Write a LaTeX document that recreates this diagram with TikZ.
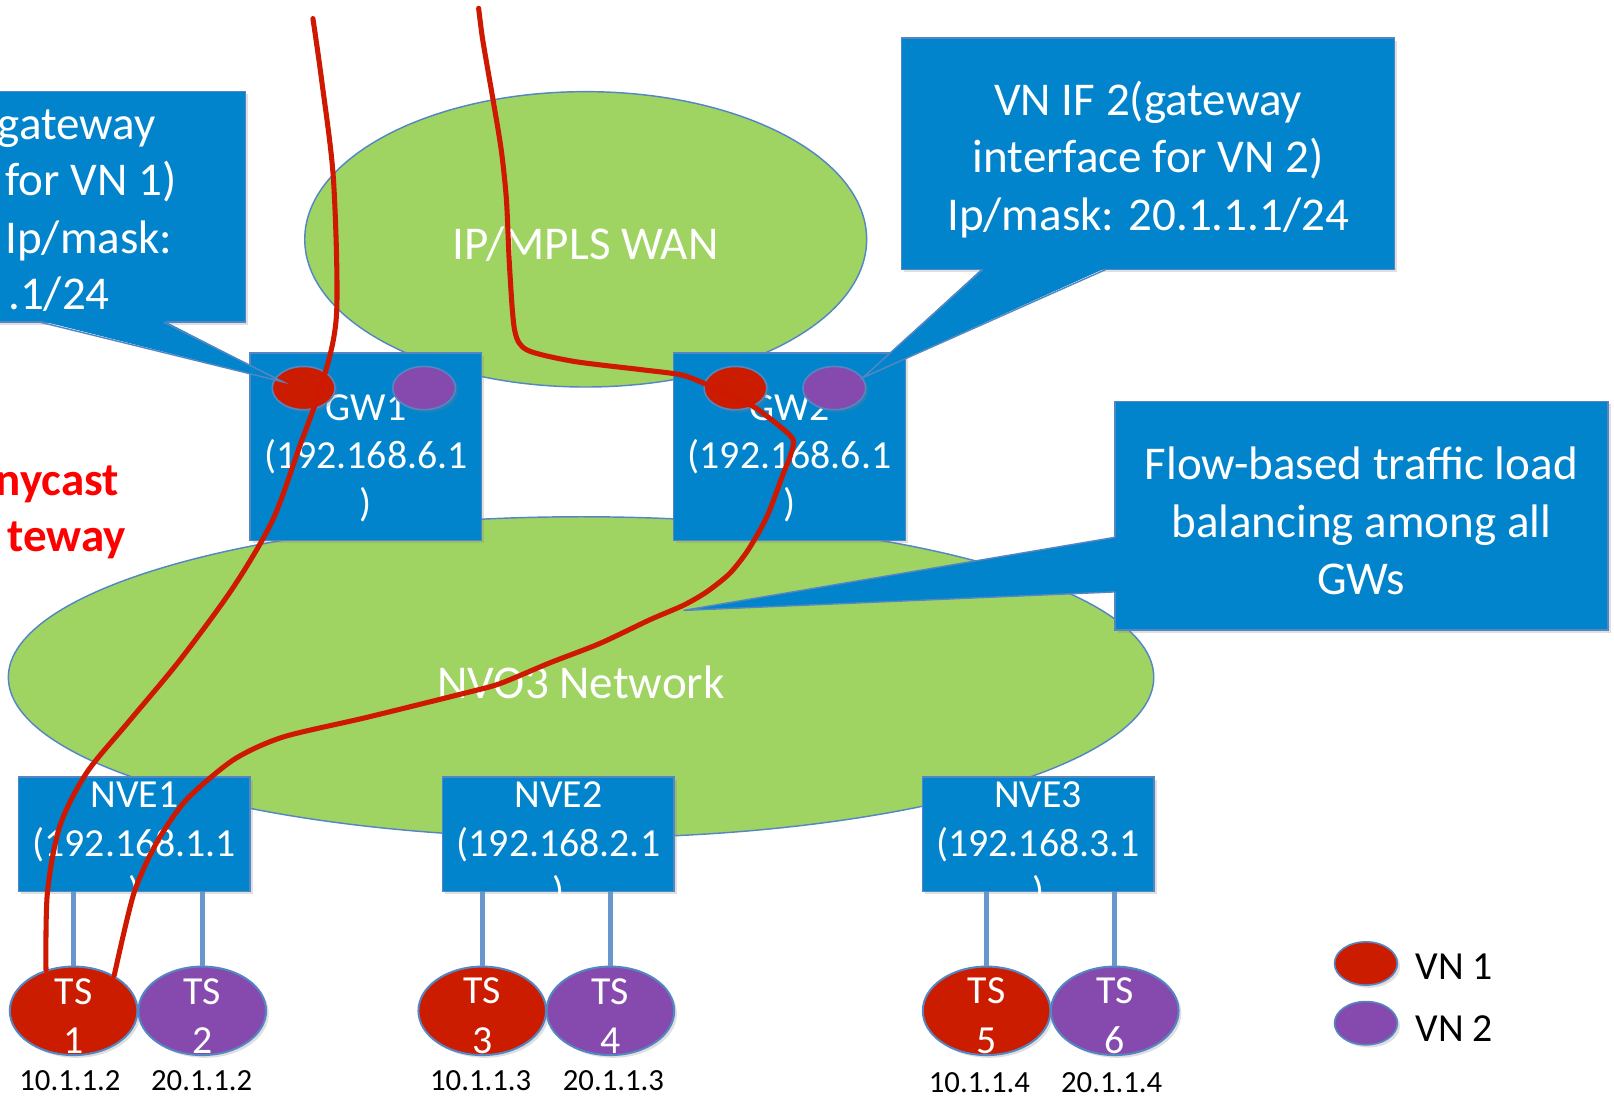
\documentclass[tikz,border=0pt]{standalone}
\usepackage{fontspec}
\setmainfont{Carlito}
\usetikzlibrary{shapes.geometric,shadows}
\definecolor{boxBlue}{RGB}{1,132,204}
\definecolor{edgeBlue}{RGB}{84,134,196}
\definecolor{netGreen}{RGB}{160,212,98}
\definecolor{vnRed}{RGB}{204,28,0}
\definecolor{vnPurple}{RGB}{134,74,175}
\definecolor{linkBlue}{RGB}{104,150,205}
\definecolor{flowRed}{RGB}{206,24,0}
\tikzstyle{shd}=[drop shadow={opacity=0.25,shadow xshift=1.5pt,shadow yshift=-1.5pt}]
\tikzstyle{net}=[ellipse,draw=edgeBlue,line width=0.8pt,fill=netGreen,inner sep=0pt]
\tikzstyle{netL}=[text=white,inner sep=0pt,yshift=-2.8pt,font=\fontsize{26}{32}\selectfont]
\tikzstyle{gwS}=[rectangle,draw=edgeBlue,line width=0.8pt,fill=boxBlue,inner sep=0pt,minimum width=4.5cm,minimum height=3.64cm,shd]
\tikzstyle{nveS}=[gwS,minimum height=2.22cm]
\tikzstyle{boxL}=[text=white,align=center,inner sep=0pt,yshift=-6.5pt,font=\fontsize{22}{26.7}\selectfont]
\tikzstyle{callS}=[rectangle,draw=edgeBlue,line width=0.8pt,fill=boxBlue,inner sep=0pt,minimum width=9.58cm,minimum height=4.5cm,shd]
\tikzstyle{callL}=[text=white,align=center,inner sep=0pt,yshift=-3pt,font=\fontsize{26}{31.9}\selectfont]
\tikzstyle{callT}=[text=white,inner sep=0pt,anchor=base east,font=\fontsize{26}{31.9}\selectfont]
\tikzstyle{tailS}=[fill=boxBlue]
\tikzstyle{tailE}=[draw=edgeBlue,line width=0.8pt]
\tikzstyle{ifS}=[ellipse,draw=edgeBlue,line width=0.9pt,minimum width=1.22cm,minimum height=0.84cm,inner sep=0pt,shd]
\tikzstyle{tsS}=[ellipse,draw=edgeBlue,line width=1.1pt,minimum width=2.48cm,minimum height=1.72cm,inner sep=0pt,shd]
\tikzstyle{tsT}=[text=white,align=center,inner sep=0pt,yshift=-2.8pt,font=\fontsize{22}{27.3}\selectfont]
\tikzstyle{ipS}=[inner sep=0pt,font=\fontsize{17}{20}\selectfont]
\tikzstyle{legS}=[inner sep=0pt,anchor=west,font=\fontsize{22}{26}\selectfont]
\tikzstyle{anyS}=[text=red,inner sep=0pt,anchor=base east,font=\bfseries\fontsize{26}{32}\selectfont]
\tikzstyle{link}=[draw=linkBlue,line width=2.6pt]
\tikzstyle{flow}=[draw=flowRed,line width=2.8pt,line cap=round,line join=round]

\begin{document}
\begin{tikzpicture}[x=0.02cm,y=-0.02cm]
\useasboundingbox (0,0) rectangle (1568,1066);
% networks
\draw (564.5,658) node[net,minimum width=22.26cm,minimum height=6.24cm,label={[netL]center:NVO3 Network}] (nvo) {};
\draw (569,232.5) node[net,minimum width=10.92cm,minimum height=5.74cm,label={[netL]center:IP/MPLS WAN}] (wan) {};
% gateways
\draw (355.5,434) node[gwS,label={[boxL]center:{GW1\\(192.168.6.1\\)}}] (gw1) {};
\draw (767,434) node[gwS,label={[boxL]center:{GW2\\(192.168.6.1\\)}}] (gw2) {};
% callouts
\draw (-3,201) node[callS,minimum width=9.66cm,minimum height=4.48cm] (cl1) {};
\draw (1115.5,149.5) node[callS,label={[callL]center:{VN IF 2(gateway\\interface for VN 2)\\Ip/mask: 20.1.1.1/24}}] (cl2) {};
\draw (1322.5,501) node[callS,minimum height=4.44cm,label={[callL]center:{Flow-based traffic load\\balancing among all\\GWs}}] (cl3) {};
\draw (151.6,136) node[callT] (cl1a) {gateway};
\draw (171.6,189.5) node[callT] (cl1b) {for VN 1)};
\draw (168,246.7) node[callT] (cl1c) {Ip/mask:};
\draw (107,301) node[callT] (cl1d) {.1/24};
% gateway interfaces
\draw (295,377) node[ifS,fill=vnRed] (if1a) {};
\draw (412,377) node[ifS,fill=vnPurple] (if1b) {};
\draw (714.5,377) node[ifS,fill=vnRed] (if2a) {};
\draw (810.5,377) node[ifS,fill=vnPurple] (if2b) {};
% callout tails
\coordinate (tip1) at (275,371);
\coordinate (tip3) at (664,593);
\fill[tailS] (39,311.5) -- (tip1) -- (159,311.5) -- cycle;
\draw[tailE] (39,313) -- (tip1) -- (159,313);
\fill[tailS] (955,260) -- (if2b.20) -- (1075,260) -- cycle;
\draw[tailE] (955,261.5) -- (if2b.20) -- (1075,261.5);
\fill[tailS] (1084.5,522) -- (tip3) -- (1084.5,575) -- cycle;
\draw[tailE] (1083,522) -- (tip3) -- (1083,575);
% edges
\draw (130.5,810.5) node[nveS,label={[boxL]center:{NVE1\\(192.168.1.1\\)}}] (nve1) {};
\draw (542.5,810.5) node[nveS,label={[boxL]center:{NVE2\\(192.168.2.1\\)}}] (nve2) {};
\draw (1008.5,810.5) node[nveS,label={[boxL]center:{NVE3\\(192.168.3.1\\)}}] (nve3) {};
% tenant systems
\draw (71.5,982) node[tsS,fill=vnRed,label={[tsT]center:{TS\\1}}] (ts1) {};
\draw (196.5,982) node[tsS,fill=vnPurple,label={[tsT]center:{TS\\2}}] (ts2) {};
\draw (468.5,982) node[tsS,fill=vnRed,label={[tsT]center:{TS\\3}}] (ts3) {};
\draw (593,982) node[tsS,fill=vnPurple,label={[tsT]center:{TS\\4}}] (ts4) {};
\draw (958.5,982) node[tsS,fill=vnRed,label={[tsT]center:{TS\\5}}] (ts5) {};
\draw (1083,982) node[tsS,fill=vnPurple,label={[tsT]center:{TS\\6}}] (ts6) {};
\draw[link] (nve1.south -| ts1) -- (ts1);
\draw[link] (nve1.south -| ts2) -- (ts2);
\draw[link] (nve2.south -| ts3) -- (ts3);
\draw[link] (nve2.south -| ts4) -- (ts4);
\draw[link] (nve3.south -| ts5) -- (ts5);
\draw[link] (nve3.south -| ts6) -- (ts6);
\draw (68,1050) node[ipS] (ip1) {10.1.1.2};
\draw (196,1050) node[ipS] (ip2) {20.1.1.2};
\draw (467,1050) node[ipS] (ip3) {10.1.1.3};
\draw (596,1050) node[ipS] (ip4) {20.1.1.3};
\draw (951.5,1052) node[ipS] (ip5) {10.1.1.4};
\draw (1080,1052) node[ipS] (ip6) {20.1.1.4};
% legend
\draw (1327,936) node[ifS,fill=vnRed] (lg1) {};
\draw (1327,994) node[ifS,fill=vnPurple] (lg2) {};
\draw (1375,939) node[legS] (lt1) {VN 1};
\draw (1375,999) node[legS] (lt2) {VN 2};
% anycast
\draw (116,481) node[anyS] (any1) {nycast};
\draw (122.5,536) node[anyS] (any2) {teway};
% traffic flows
\coordinate (srcA) at (304,18);
\coordinate (srcB) at (465,8);
\draw[flow] plot[smooth,tension=0.5] coordinates {(srcA) (312.5,78) (324,175) (327,304) (314,369) (291,434) (265,505) (227,570) (175,641) (126,700) (84,751) (58,803) (46,868) (ts1.124)};
\draw[flow] plot[smooth,tension=0.45] coordinates {(srcB) (469,39) (479,97) (487,146) (492,194) (495,259) (500,321) (512,340) (557,351) (622,359) (661,364) (683,372) (710,385) (732,395) (758,414.5) (770.7,427.5) (767.5,443.7) (761,460) (745,502) (727,534) (709,557) (686.5,575) (664,588) (631.5,602) (583,625) (534,644) (486,664) (453,673) (356,697) (275,716) (227,738) (181,777) (152,819) (130,868) (ts1.41)};
\end{tikzpicture}
\end{document}
